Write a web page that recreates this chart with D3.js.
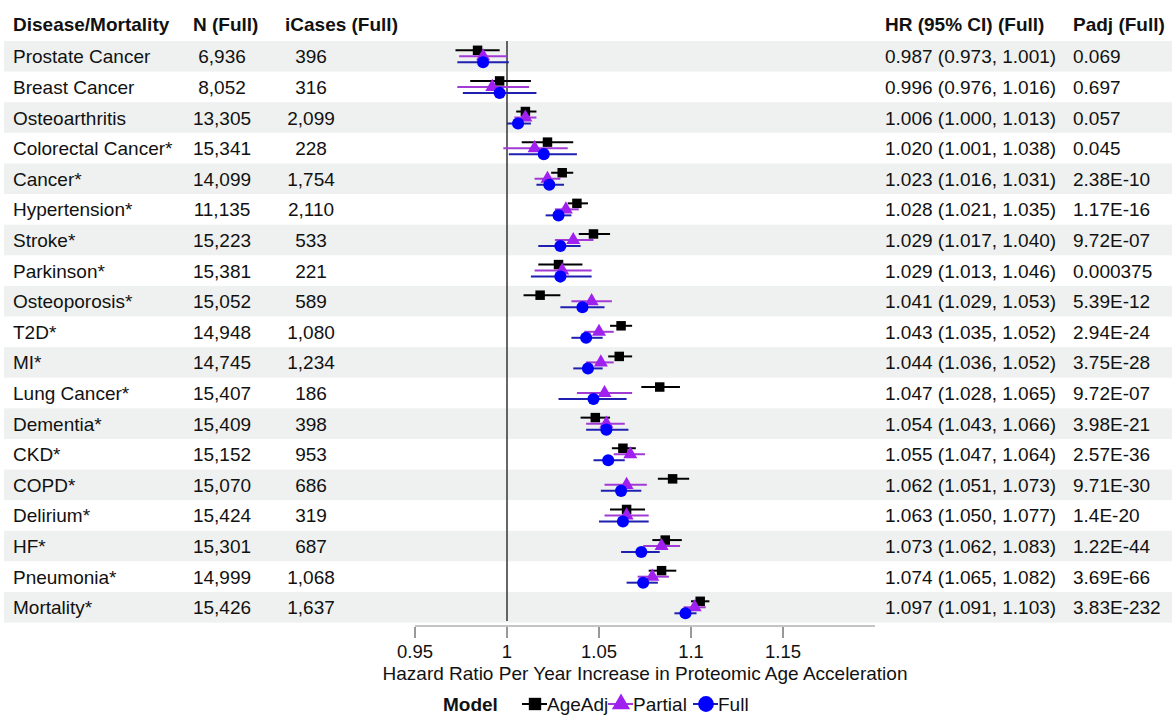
<!DOCTYPE html>
<html>
<head>
<meta charset="utf-8">
<script src="https://cdn.jsdelivr.net/npm/d3@7"></script>
<style>
  body { margin: 0; background: #fff; }
  text { font-family: "Liberation Sans", Arial, sans-serif; fill: #111; }
</style>
</head>
<body>
<svg width="1172" height="717"></svg>
<script>
var width = 1172,
    height = 717;

// table columns
var diseases = ["Prostate Cancer", "Breast Cancer", "Osteoarthritis", "Colorectal Cancer*", "Cancer*",
  "Hypertension*", "Stroke*", "Parkinson*", "Osteoporosis*", "T2D*", "MI*", "Lung Cancer*",
  "Dementia*", "CKD*", "COPD*", "Delirium*", "HF*", "Pneumonia*", "Mortality*"];
var nFull = ["6,936", "8,052", "13,305", "15,341", "14,099", "11,135", "15,223", "15,381", "15,052",
  "14,948", "14,745", "15,407", "15,409", "15,152", "15,070", "15,424", "15,301", "14,999", "15,426"];
var iCases = ["396", "316", "2,099", "228", "1,754", "2,110", "533", "221", "589", "1,080", "1,234",
  "186", "398", "953", "686", "319", "687", "1,068", "1,637"];
var padj = ["0.069", "0.697", "0.057", "0.045", "2.38E-10", "1.17E-16", "9.72E-07", "0.000375",
  "5.39E-12", "2.94E-24", "3.75E-28", "9.72E-07", "3.98E-21", "2.57E-36", "9.71E-30", "1.4E-20",
  "1.22E-44", "3.69E-66", "3.83E-232"];

// hazard ratios: Full model (from table)
var fullHR = [0.987, 0.996, 1.006, 1.020, 1.023, 1.028, 1.029, 1.029, 1.041, 1.043, 1.044, 1.047,
  1.054, 1.055, 1.062, 1.063, 1.073, 1.074, 1.097];
var fullLo = [0.973, 0.976, 1.000, 1.001, 1.016, 1.021, 1.017, 1.013, 1.029, 1.035, 1.036, 1.028,
  1.043, 1.047, 1.051, 1.050, 1.062, 1.065, 1.091];
var fullHi = [1.001, 1.016, 1.013, 1.038, 1.031, 1.035, 1.040, 1.046, 1.053, 1.052, 1.052, 1.065,
  1.066, 1.064, 1.073, 1.077, 1.083, 1.082, 1.103];

// AgeAdj and Partial models
var ageHR = [0.984, 0.996, 1.010, 1.022, 1.030, 1.038, 1.047, 1.028, 1.018, 1.062, 1.061, 1.083,
  1.048, 1.063, 1.090, 1.065, 1.086, 1.084, 1.105];
var ageLo = [0.972, 0.980, 1.005, 1.008, 1.024, 1.033, 1.039, 1.017, 1.009, 1.056, 1.055, 1.073,
  1.040, 1.057, 1.082, 1.056, 1.079, 1.077, 1.100];
var ageHi = [0.996, 1.013, 1.016, 1.036, 1.036, 1.044, 1.056, 1.041, 1.029, 1.068, 1.068, 1.094,
  1.056, 1.070, 1.099, 1.075, 1.095, 1.092, 1.110];

var partHR = [0.987, 0.992, 1.010, 1.015, 1.022, 1.032, 1.036, 1.030, 1.046, 1.050, 1.051, 1.053,
  1.054, 1.067, 1.065, 1.065, 1.084, 1.079, 1.102];
var partLo = [0.974, 0.973, 1.004, 0.998, 1.015, 1.026, 1.026, 1.015, 1.035, 1.042, 1.043, 1.038,
  1.043, 1.058, 1.053, 1.053, 1.074, 1.071, 1.096];
var partHi = [1.000, 1.012, 1.016, 1.033, 1.029, 1.039, 1.047, 1.046, 1.057, 1.058, 1.058, 1.068,
  1.064, 1.075, 1.076, 1.077, 1.094, 1.088, 1.108];

var xTicks = [0.95, 1, 1.05, 1.1, 1.15];
var models = ["AgeAdj", "Partial", "Full"];

var svg = d3.select("svg");
var fs = "19px";

var x = d3.scaleLinear().domain([0.95, 1.2]).range([415, 875]);
var y = d3.scaleBand().domain(d3.range(diseases.length)).range([41, 622.6]);

var modelStyle = {
  AgeAdj:  { line: "#000000", fill: "#000000", shape: d3.symbolSquare, size: 90, dy: -6 },
  Partial: { line: "#a23bd6", fill: "#a020f0", shape: d3.symbolTriangle, size: 85, dy: 0 },
  Full:    { line: "#1f1fb0", fill: "#0000ff", shape: d3.symbolCircle, size: 115, dy: 6 }
};

// row stripes
svg.append("g").selectAll("rect")
  .data(d3.range(diseases.length).filter(function(i) { return i % 2 === 0; }))
  .enter().append("rect")
  .attr("x", 4)
  .attr("y", function(i) { return y(i); })
  .attr("width", width - 4)
  .attr("height", y.bandwidth())
  .attr("fill", "#eff1f0");

// headers
var headers = [
  { t: "Disease/Mortality", x: 13 },
  { t: "N (Full)", x: 193 },
  { t: "iCases (Full)", x: 285 },
  { t: "HR (95% CI) (Full)", x: 885 },
  { t: "Padj (Full)", x: 1073 }
];
svg.append("g").selectAll("text")
  .data(headers)
  .enter().append("text")
  .attr("x", function(d) { return d.x; })
  .attr("y", 31)
  .style("font-size", fs)
  .style("font-weight", "bold")
  .text(function(d) { return d.t; });

var fmt = d3.format(".3f");
var rows = svg.append("g").selectAll("g")
  .data(d3.range(diseases.length))
  .enter().append("g")
  .attr("transform", function(i) { return "translate(0," + (y(i) + y.bandwidth() / 2 + 7) + ")"; })
  .style("font-size", fs);

rows.append("text").attr("x", 13).text(function(i) { return diseases[i]; });
rows.append("text").attr("x", 222).attr("text-anchor", "middle").text(function(i) { return nFull[i]; });
rows.append("text").attr("x", 311).attr("text-anchor", "middle").text(function(i) { return iCases[i]; });
rows.append("text").attr("x", 885)
  .text(function(i) { return fmt(fullHR[i]) + " (" + fmt(fullLo[i]) + ", " + fmt(fullHi[i]) + ")"; });
rows.append("text").attr("x", 1073).text(function(i) { return padj[i]; });

// reference line at HR = 1
svg.append("line")
  .attr("x1", x(1)).attr("x2", x(1))
  .attr("y1", 41).attr("y2", 621)
  .attr("stroke", "#333").attr("stroke-width", 1.5);

// x axis
var axisY = 626;
svg.append("line")
  .attr("x1", x(0.95)).attr("x2", x(1.2))
  .attr("y1", axisY).attr("y2", axisY)
  .attr("stroke", "#c4c4c4").attr("stroke-width", 2);
var ticks = svg.append("g").selectAll("g")
  .data(xTicks)
  .enter().append("g")
  .attr("transform", function(d) { return "translate(" + x(d) + "," + axisY + ")"; });
ticks.append("line").attr("y1", 1).attr("y2", 12).attr("stroke", "#333").attr("stroke-width", 1);
ticks.append("text").attr("y", 32).attr("text-anchor", "middle")
  .style("font-size", "18.5px").text(function(d) { return d; });

svg.append("text")
  .attr("x", 645).attr("y", 680)
  .attr("text-anchor", "middle")
  .style("font-size", fs)
  .text("Hazard Ratio Per Year Increase in Proteomic Age Acceleration");

// forest marks
var series = [
  { m: "AgeAdj", hr: ageHR, lo: ageLo, hi: ageHi },
  { m: "Partial", hr: partHR, lo: partLo, hi: partHi },
  { m: "Full", hr: fullHR, lo: fullLo, hi: fullHi }
];
series.forEach(function(s) {
  var st = modelStyle[s.m];
  var g = svg.append("g").attr("class", "series-" + s.m);
  var cy = function(i) { return y(i) + y.bandwidth() / 2 + st.dy; };
  g.selectAll("line")
    .data(d3.range(diseases.length))
    .enter().append("line")
    .attr("x1", function(i) { return x(s.lo[i]); })
    .attr("x2", function(i) { return x(s.hi[i]); })
    .attr("y1", cy).attr("y2", cy)
    .attr("stroke", st.line).attr("stroke-width", 2);
  g.selectAll("path")
    .data(d3.range(diseases.length))
    .enter().append("path")
    .attr("d", d3.symbol().type(st.shape).size(st.size))
    .attr("transform", function(i) { return "translate(" + x(s.hr[i]) + "," + cy(i) + ")"; })
    .attr("fill", st.fill);
});

// legend
var legY = 704;
svg.append("text").attr("x", 443).attr("y", legY + 7)
  .style("font-size", fs).style("font-weight", "bold").text("Model");
var legX = [522, 608, 693];
var leg = svg.append("g").selectAll("g")
  .data(models)
  .enter().append("g")
  .attr("transform", function(d, i) { return "translate(" + legX[i] + "," + legY + ")"; });
leg.append("line").attr("x1", 0).attr("x2", 25)
  .attr("stroke", function(d) { return modelStyle[d].line; }).attr("stroke-width", 2);
leg.append("path")
  .attr("d", function(d) { return d3.symbol().type(modelStyle[d].shape).size(modelStyle[d].size * 1.7)(); })
  .attr("transform", "translate(13,0)")
  .attr("fill", function(d) { return modelStyle[d].fill; });
leg.append("text").attr("x", 25).attr("y", 7)
  .style("font-size", fs).text(function(d) { return d; });
</script>
</body>
</html>
